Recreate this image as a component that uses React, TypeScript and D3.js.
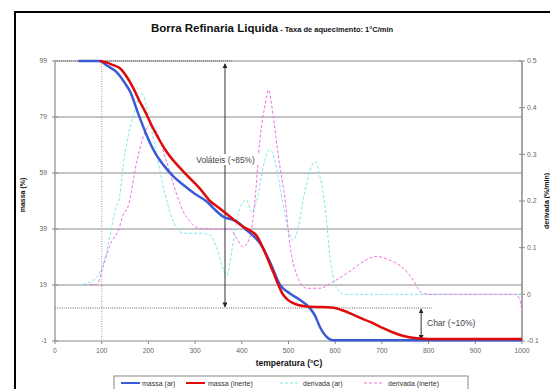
import React from "react";
import * as d3 from "d3";

const xTicks = [0, 100, 200, 300, 400, 500, 600, 700, 800, 900, 1000];
const massTicks = [-1, 19, 39, 59, 79, 99];
const derTicks = [-0.1, 0, 0.1, 0.2, 0.3, 0.4, 0.5];

const massAr: [number, number][] = [
  [50, 99], [96, 99], [110, 97.5], [132, 95], [150, 91], [161, 88], [178, 80.3], [196, 72.6],
  [215, 66], [232, 61.9], [255, 57.5], [275, 54.7], [300, 51.5], [325, 48.8], [345, 45.5],
  [360, 43.4], [382, 42.2], [395, 41], [410, 38.6], [425, 36.5], [439, 33.9], [460, 27.3],
  [482, 19], [503, 16], [525, 13.6], [546, 10.7], [557, 8], [567, 4.1], [585, 0], [596, -0.7],
  [1000, -0.7],
];

const massInerte: [number, number][] = [
  [96, 99], [110, 98.5], [125, 97.5], [139, 96.4], [155, 93], [168, 89.2], [180, 85],
  [193, 80.9], [210, 75], [239, 66.6], [275, 59.5], [310, 53.5], [332, 49], [353, 46.3],
  [375, 43.4], [403, 39.8], [420, 38.2], [430, 37], [446, 32], [467, 23.7], [489, 15.4],
  [500, 13.5], [510, 12.5], [539, 11.3], [596, 10.9], [615, 10], [632, 8.9], [650, 7.5],
  [675, 5.8], [700, 3.8], [720, 2.3], [746, 0.8], [775, 0], [800, -0.3], [1000, -0.3],
];

const derivAr: [number, number][] = [
  [50, 0.02], [75, 0.026], [96, 0.048], [107, 0.077], [118, 0.127], [128, 0.177], [139, 0.213],
  [146, 0.277], [157, 0.34], [168, 0.384], [186, 0.43], [203, 0.37], [218, 0.298], [236, 0.213],
  [246, 0.177], [261, 0.141], [275, 0.131], [310, 0.131], [332, 0.127], [346, 0.1], [358, 0.06],
  [368, 0.041], [378, 0.09], [389, 0.156], [403, 0.198], [410, 0.202], [421, 0.177], [432, 0.2],
  [445, 0.27], [460, 0.31], [470, 0.29], [478, 0.252], [496, 0.152], [510, 0.116], [520, 0.14],
  [535, 0.22], [557, 0.284], [568, 0.25], [578, 0.19], [590, 0.07], [603, 0.015], [620, 0],
  [1000, 0],
];

const derivInerte: [number, number][] = [
  [75, 0.021], [89, 0.021], [103, 0.059], [118, 0.106], [136, 0.138], [146, 0.17], [157, 0.19],
  [175, 0.284], [193, 0.348], [203, 0.363], [218, 0.348], [239, 0.284], [261, 0.213],
  [275, 0.177], [289, 0.156], [310, 0.141], [332, 0.14], [375, 0.14], [389, 0.12], [403, 0.102],
  [418, 0.125], [428, 0.2], [439, 0.334], [450, 0.406], [457, 0.438], [467, 0.384], [478, 0.298],
  [493, 0.2], [503, 0.106], [518, 0.041], [539, 0.013], [567, 0.013], [596, 0.027], [632, 0.05],
  [660, 0.07], [689, 0.081], [717, 0.073], [746, 0.056], [767, 0.031], [785, 0.003], [803, 0],
  [985, 0], [995, -0.01], [1000, -0.04],
];

const legendItems = [
  { label: "massa (ar)", color: "#3b5bd6", dash: "", w: 2.5 },
  { label: "massa (inerte)", color: "#e00a0a", dash: "", w: 2.5 },
  { label: "derivada (ar)", color: "#7fe6ea", dash: "3,2", w: 1 },
  { label: "derivada (inerte)", color: "#ee6fe0", dash: "3,2", w: 1 },
];

const L = 55, R = 522, T = 61, B = 341;

export default function App() {
  const x = d3.scaleLinear().domain([0, 1000]).range([L, R]);
  const yM = d3.scaleLinear().domain([-1, 99]).range([B, T]);
  const yD = d3.scaleLinear().domain([-0.1, 0.5]).range([B, T]);
  const lineM = d3.line<[number, number]>().x(d => x(d[0])).y(d => yM(d[1])).curve(d3.curveMonotoneX);
  const lineD = d3.line<[number, number]>().x(d => x(d[0])).y(d => yD(d[1])).curve(d3.curveMonotoneX);
  const font = "Liberation Sans, Arial, sans-serif";
  const grid = "#8a8a8a";
  const tickCol = "#666";
  const charLevel = 10.8;
  const volX = x(364);
  const charX = x(784);

  const legX = [121, 186, 280, 364];
  const legTx = [142, 208, 303, 388];

  return (
    <svg width={550} height={389} style={{ position: "absolute", left: 0, top: 0, background: "#fff" }} fontFamily={font}>
      <defs>
        <marker id="ah" viewBox="0 0 10 10" refX="9" refY="5" markerWidth="5" markerHeight="5" orient="auto-start-reverse">
          <path d="M0,0 L10,5 L0,10 z" fill="#222" />
        </marker>
      </defs>
      <rect x={15} y={12} width={560} height={400} fill="#fff" stroke="#000" strokeWidth={2} />
      {/* title */}
      <text x={272} y={32} textAnchor="middle" fontWeight="bold" fill="#111">
        <tspan fontSize={11.5}>Borra Refinaria Liquida</tspan>
        <tspan fontSize={7.5}> - Taxa de aquecimento: 1°C/min</tspan>
      </text>
      {/* gridlines */}
      {massTicks.filter(t => t > -1 && t < 99).map(t => (
        <line key={"g" + t} x1={L} x2={R} y1={yM(t)} y2={yM(t)} stroke={grid} strokeWidth={1} />
      ))}
      <line x1={L} x2={R} y1={T} y2={T} stroke={grid} strokeWidth={1.2} />
      <line x1={L} x2={R} y1={B} y2={B} stroke={grid} strokeWidth={1.2} />
      <line x1={L} x2={L} y1={T} y2={B} stroke={grid} strokeWidth={1.2} />
      <line x1={R} x2={R} y1={T} y2={B} stroke={grid} strokeWidth={1.5} />
      {/* ticks */}
      {massTicks.map(t => (
        <g key={"m" + t}>
          <line x1={L - 3} x2={L + 3} y1={yM(t)} y2={yM(t)} stroke={grid} />
          <text x={47} y={yM(t) + 2.4} textAnchor="end" fontSize={6.8} fill={tickCol}>{t}</text>
        </g>
      ))}
      {derTicks.map(t => (
        <g key={"d" + t}>
          <line x1={R - 3} x2={R + 3} y1={yD(t)} y2={yD(t)} stroke={grid} />
          <text x={527} y={yD(t) + 2.4} textAnchor="start" fontSize={6.8} fill={tickCol}>{t === 0 ? "0" : t.toFixed(1)}</text>
        </g>
      ))}
      {xTicks.map(t => (
        <g key={"x" + t}>
          <line x1={x(t)} x2={x(t)} y1={B} y2={B + 3} stroke={grid} />
          <text x={x(t)} y={353} textAnchor="middle" fontSize={6.8} fill={tickCol}>{t}</text>
        </g>
      ))}
      {/* axis titles */}
      <text x={289} y={366} textAnchor="middle" fontSize={8.5} fontWeight="bold" fill="#111">temperatura (°C)</text>
      <text transform={`translate(25,${(T + B) / 2 - 6}) rotate(-90)`} textAnchor="middle" fontSize={7} fontWeight="bold" fill="#111">massa (%)</text>
      <text transform={`translate(549,${(T + B) / 2}) rotate(-90)`} textAnchor="middle" fontSize={7} fontWeight="bold" fill="#111">derivada (%/min)</text>
      {/* dotted references */}
      <line x1={L} x2={x(380)} y1={yM(99)} y2={yM(99)} stroke="#999" strokeWidth={1.8} strokeDasharray="1,1" />
      <line x1={x(100)} x2={x(100)} y1={T} y2={B} stroke="#aaa" strokeWidth={1.2} strokeDasharray="1,1.5" />
      <line x1={L} x2={x(810)} y1={yM(charLevel)} y2={yM(charLevel)} stroke="#999" strokeWidth={1.5} strokeDasharray="1,1.2" />
      {/* derivatives */}
      <path d={lineD(derivAr) || ""} fill="none" stroke="#7fe6ea" strokeWidth={1} strokeDasharray="3,2" />
      <path d={lineD(derivInerte) || ""} fill="none" stroke="#ee6fe0" strokeWidth={1} strokeDasharray="3,2" />
      {/* arrows */}
      <line x1={volX} x2={volX} y1={yM(98)} y2={yM(charLevel) - 1} stroke="#333" strokeWidth={1} markerStart="url(#ah)" markerEnd="url(#ah)" />
      <line x1={charX} x2={charX} y1={yM(charLevel) + 1} y2={yM(-0.5)} stroke="#333" strokeWidth={1} markerStart="url(#ah)" markerEnd="url(#ah)" />
      <rect x={191} y={154} width={69} height={11} fill="#fff" />
      <text x={225.5} y={163} textAnchor="middle" fontSize={8.3} fill="#444">Voláteis (~85%)</text>
      <text x={427} y={326} fontSize={8.5} fill="#444">Char (~10%)</text>
      {/* mass */}
      <path d={lineM(massAr) || ""} fill="none" stroke="#3b5bd6" strokeWidth={2.5} />
      <path d={lineM(massInerte) || ""} fill="none" stroke="#e00a0a" strokeWidth={2.5} />
      {/* legend */}
      <rect x={114} y={376} width={354} height={20} fill="#fff" stroke="#888" strokeWidth={1} />
      {legendItems.map((it, i) => (
        <g key={it.label}>
          <line x1={legX[i]} x2={legX[i] + 19} y1={383} y2={383} stroke={it.color} strokeWidth={it.w === 1 ? 1 : 2} strokeDasharray={it.dash} />
          <text x={legTx[i]} y={385.5} fontSize={7} fill="#333">{it.label}</text>
        </g>
      ))}
    </svg>
  );
}
